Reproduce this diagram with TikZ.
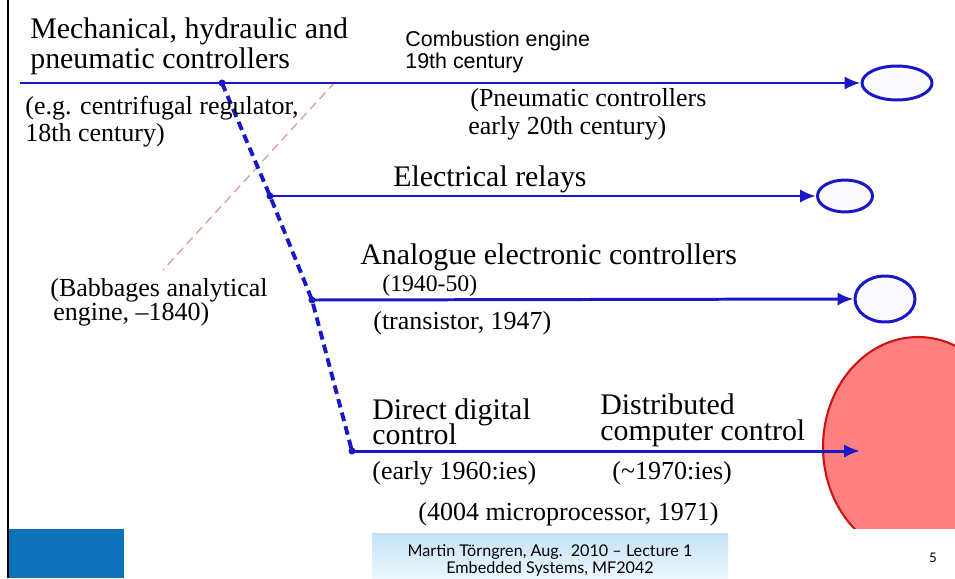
\documentclass[tikz,border=0pt]{standalone}
\usepackage{fontspec}
\setmainfont{Liberation Serif}
\newfontfamily\sansfont{Liberation Sans}
\newfontfamily\footfont{Lato}
\usetikzlibrary{arrows.meta, shapes.geometric}
\definecolor{lineblue}{RGB}{24,24,200}
\definecolor{slideblue}{RGB}{14,114,187}
\definecolor{babline}{RGB}{215,165,155}
\definecolor{futurefill}{RGB}{255,128,128}
\definecolor{futuredraw}{RGB}{205,20,20}
\definecolor{foottop}{RGB}{196,226,248}
\definecolor{footbot}{RGB}{236,246,253}
\tikzset{
  titulo/.style={anchor=base west, inner sep=0pt, font=\fontsize{17}{18}\selectfont},
  nota/.style={anchor=base west, inner sep=0pt, font=\fontsize{14.8}{16}\selectfont},
  notapeq/.style={anchor=base west, inner sep=0pt, font=\fontsize{13.5}{15}\selectfont},
  rotsans/.style={anchor=base west, inner sep=0pt, font=\sansfont\fontsize{12.2}{14}\selectfont},
  ramo/.style={draw=lineblue, line width=1.7pt, -{Latex[length=9pt, width=7.5pt]}},
  saida/.style={ellipse, draw=lineblue, line width=1.7pt, fill=blue!2, inner sep=0pt},
  futuro/.style={ellipse, draw=futuredraw, line width=1.2pt, fill=futurefill, inner sep=0pt},
  espinha/.style={draw=lineblue, line width=2.2pt, dash pattern=on 5pt off 3pt},
  babbage/.style={draw=babline, line width=0.8pt, dash pattern=on 5pt off 3pt},
  juncao/.style={circle, fill=lineblue, inner sep=0pt, minimum size=4pt},
  rodape/.style={anchor=base, inner sep=0pt, font=\footfont\fontsize{9.2}{11}\selectfont},
}

\begin{document}
\begin{tikzpicture}[x=0.02cm, y=-0.02cm]
  \useasboundingbox (0,0) rectangle (955,578);

  % ---------------- slide frame ----------------
  \draw[black, line width=1.4pt] (8,0) -- (8,578);
  \fill[slideblue] (9,529) rectangle (124,578);
  \shade[top color=foottop, bottom color=footbot] (372,533) rectangle (728,578);
  \node[rodape] (foot1) at (550,556) {Martin Törngren, Aug.\ \ 2010 – Lecture 1};
  \node[rodape] (foot2) at (550,573) {Embedded Systems, MF2042};
  \node[anchor=base, inner sep=0pt, font=\footfont\fontsize{7.5}{9}\selectfont] (pagina) at (933,562) {5};

  % ---------------- outcomes ----------------
  \begin{scope}
    \clip (0,0) rectangle (955,528);
    \node[futuro, minimum width=3.8cm, minimum height=4.4cm] (computador) at (918,447) {};
  \end{scope}
  \node[saida, minimum width=1.4cm, minimum height=0.68cm] (mecanico) at (897,83) {};
  \node[saida, minimum width=1.1cm, minimum height=0.64cm] (rele) at (845,196) {};
  \node[saida, minimum width=1.2cm, minimum height=0.92cm] (analogico) at (885,299) {};

  % ---------------- branches ----------------
  \coordinate (inicio) at (20,83);
  \coordinate (j1) at (222,83);
  \coordinate (j2) at (270,196);
  \coordinate (j3) at (312,300);
  \coordinate (j4) at (352,451);
  \coordinate (alvo) at (860,451);
  \coordinate (bab-top) at (335,82);
  \coordinate (bab-bot) at (163,270);

  \draw[babbage] (bab-top) -- (bab-bot);
  \draw[espinha] (j1) -- (j2) -- (j3) -- (j4);
  \draw[ramo] (inicio) -- (mecanico.west);
  \draw[ramo] (j2) -- (rele.west);
  \draw[ramo] (j3) -- (analogico.west);
  \draw[ramo] (j4) -- (alvo);
  \foreach \j in {j1, j2, j3, j4} { \node[juncao] at (\j) {}; }

  % ---------------- labels ----------------
  \node[titulo] (mec1) at (30,38) {Mechanical, hydraulic and};
  \node[titulo] (mec2) at (30,68) {pneumatic controllers};
  \node[nota] (cent1) at (25,114) {(e.g. centrifugal regulator,};
  \node[nota] (cent2) at (25,141) {18th century)};
  \node[rotsans] (comb1) at (405,46) {Combustion engine};
  \node[rotsans] (comb2) at (405,68) {19th century};
  \node[nota] (pneu1) at (470,106) {(Pneumatic controllers};
  \node[nota] (pneu2) at (468,134) {early 20th century)};
  \node[titulo] (rele-txt) at (393,186) {Electrical relays};
  \node[titulo] (analog-txt) at (360,264) {Analogue electronic controllers};
  \node[notapeq] (analog-ano) at (382,291) {(1940-50)};
  \node[nota] (transistor) at (373,329) {(transistor, 1947)};
  \node[nota] (bab1) at (50,296) {(Babbages analytical};
  \node[nota] (bab2) at (53,320) {engine, --1840)};
  \node[titulo] (ddc1) at (372,419) {Direct digital};
  \node[titulo] (ddc2) at (372,444) {control};
  \node[titulo] (dcc1) at (600,414) {Distributed};
  \node[titulo] (dcc2) at (600,440) {computer control};
  \node[nota] (ddc-ano) at (372,479) {(early 1960:ies)};
  \node[nota] (dcc-ano) at (612,479) {(\textasciitilde1970:ies)};
  \node[nota] (micro) at (418,520) {(4004 microprocessor, 1971)};
\end{tikzpicture}
\end{document}
